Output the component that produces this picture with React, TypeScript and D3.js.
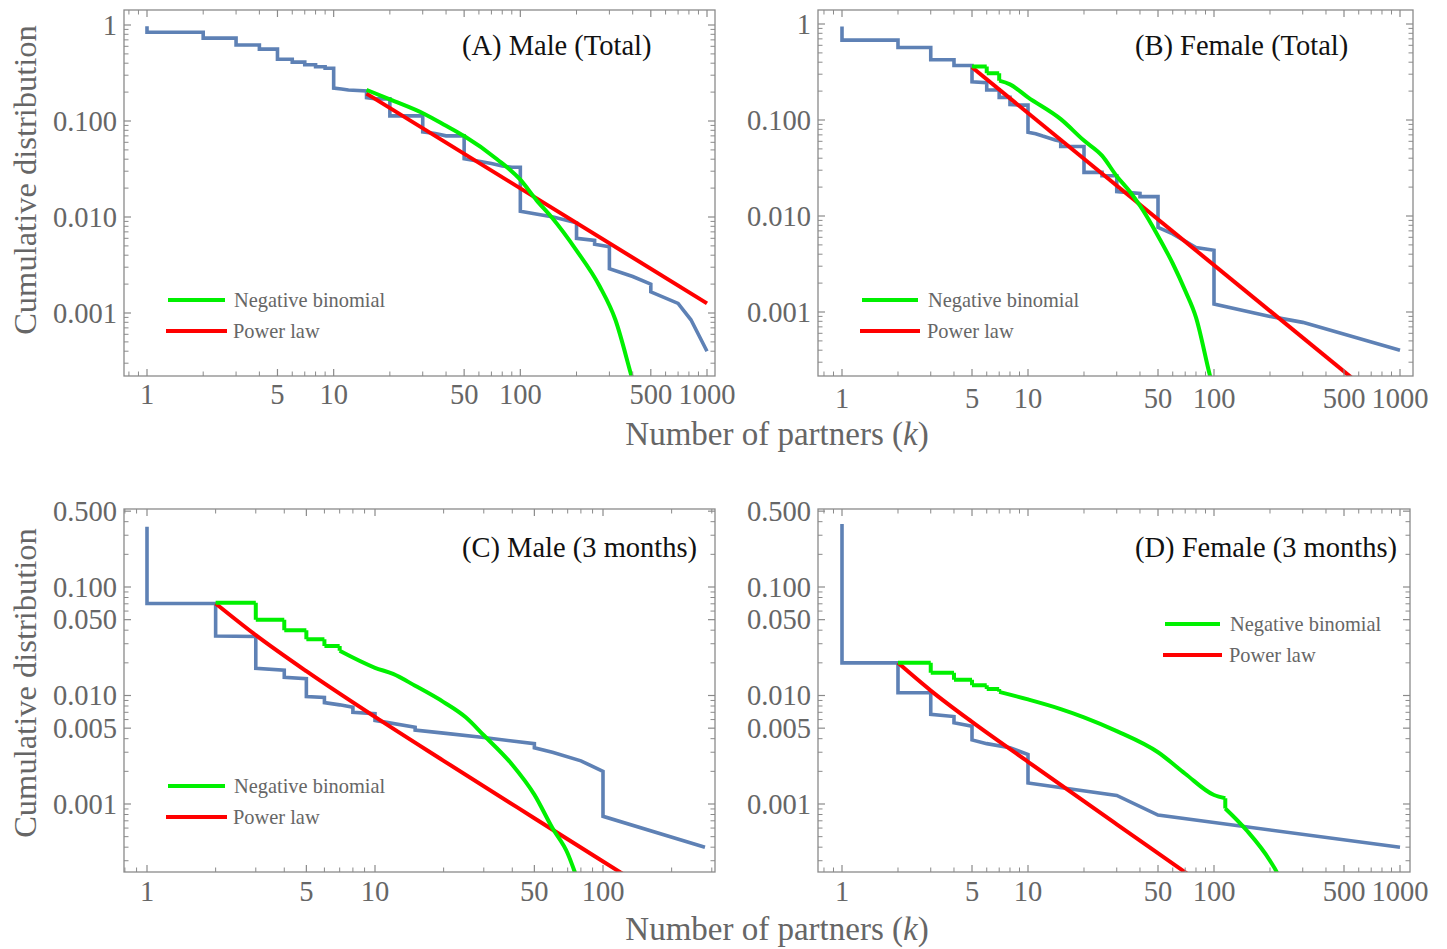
import React from 'react';
import * as d3 from 'd3';

// ---------- DATA ----------
// (A) Male (Total)
const maleTotalK = [1, 1, 2, 2, 3, 3, 4, 4, 5, 5, 6, 6, 7, 7, 8, 8, 9, 9, 10, 10, 11, 12, 15, 15, 17, 20, 20, 30, 30, 35, 40, 50, 50, 60, 70, 80, 90, 100, 100, 150, 200, 200, 250, 250, 300, 300, 400, 500, 500, 700, 820, 1000];
const maleTotalP = [0.97, 0.84, 0.84, 0.73, 0.73, 0.62, 0.62, 0.56, 0.56, 0.44, 0.44, 0.41, 0.41, 0.385, 0.385, 0.367, 0.367, 0.355, 0.355, 0.22, 0.215, 0.21, 0.206, 0.175, 0.17, 0.17, 0.113, 0.113, 0.077, 0.074, 0.07, 0.07, 0.0404, 0.038, 0.036, 0.034, 0.033, 0.033, 0.0115, 0.01, 0.0087, 0.006, 0.0057, 0.0052, 0.0049, 0.0029, 0.0024, 0.002, 0.00166, 0.00126, 0.00085, 0.0004];
const maleTotalNbK = [15, 20, 31, 40, 50, 75, 100, 122, 148, 198, 266, 323, 393, 430];
const maleTotalNbP = [0.211, 0.168, 0.117, 0.089, 0.0697, 0.04, 0.0245, 0.015, 0.0098, 0.0046, 0.0019, 0.00085, 0.000224, 0.00012];
const maleTotalPlK = [15, 1000];
const maleTotalPlP = [0.193, 0.00126];

// (B) Female (Total)
const femaleTotalK = [1, 1, 2, 2, 3, 3, 4, 4, 5, 5, 6, 6, 7, 7, 8, 8, 9, 10, 10, 11, 12, 14, 15, 15, 20, 20, 25, 25, 30, 30, 35, 40, 40, 50, 50, 60, 80, 100, 100, 200, 300, 1000];
const femaleTotalP = [0.94, 0.68, 0.68, 0.57, 0.57, 0.425, 0.425, 0.37, 0.37, 0.25, 0.245, 0.205, 0.205, 0.172, 0.172, 0.145, 0.143, 0.143, 0.0745, 0.072, 0.068, 0.062, 0.06, 0.053, 0.053, 0.0285, 0.0285, 0.0263, 0.0263, 0.018, 0.0175, 0.0172, 0.0159, 0.0159, 0.0076, 0.0065, 0.0047, 0.0044, 0.00121, 0.0009, 0.00078, 0.0004];
const femaleTotalNbK = [5, 6, 6, 7, 7, 8, 10, 15, 20, 25, 30, 35, 40, 50, 60, 70, 80, 95, 100];
const femaleTotalNbP = [0.36, 0.36, 0.306, 0.306, 0.257, 0.235, 0.172, 0.102, 0.061, 0.0425, 0.026, 0.0183, 0.0128, 0.0062, 0.0032, 0.00167, 0.00088, 0.00022, 0.00015];
const femaleTotalPlK = [5, 600];
const femaleTotalPlP = [0.354, 0.00018];

// (C) Male (3 months)
const male3mK = [1, 1, 2, 2, 3, 3, 4, 4, 5, 5, 6, 6, 7, 8, 8, 10, 10, 15, 15, 20, 30, 50, 50, 60, 80, 100, 100, 280];
const male3mP = [0.36, 0.0705, 0.0705, 0.0354, 0.035, 0.0178, 0.0171, 0.0147, 0.0143, 0.0098, 0.0096, 0.0086, 0.0082, 0.0078, 0.007, 0.0068, 0.0059, 0.0051, 0.0048, 0.0045, 0.0041, 0.0036, 0.0033, 0.003, 0.0025, 0.002, 0.00077, 0.0004];
const male3mNbK = [2, 3, 3, 4, 4, 5, 5, 6, 6, 7, 7, 10, 12, 15, 20, 25, 30, 40, 50, 60, 70, 75, 80];
const male3mNbP = [0.0714, 0.0714, 0.05, 0.05, 0.04, 0.04, 0.033, 0.033, 0.0286, 0.0286, 0.0258, 0.018, 0.0158, 0.0123, 0.0087, 0.0063, 0.0043, 0.0023, 0.00122, 0.0006, 0.00035, 0.00024, 0.00016];
const male3mPlK = [2, 3, 5, 10, 20, 50, 116, 130];
const male3mPlP = [0.0705, 0.036, 0.01675, 0.00635, 0.0025, 0.00074, 0.000243, 0.000209];

// (D) Female (3 months)
const female3mK = [1, 1, 2, 2, 3, 3, 4, 4, 5, 5, 6, 8, 10, 10, 30, 50, 1000];
const female3mP = [0.38, 0.02, 0.02, 0.0106, 0.0106, 0.0067, 0.0064, 0.0056, 0.0052, 0.0039, 0.0036, 0.0033, 0.00286, 0.00156, 0.0012, 0.00079, 0.0004];
const female3mNbK = [2, 3, 3, 4, 4, 5, 5, 6, 6, 7, 7, 10, 15, 20, 30, 50, 70, 100, 115, 115, 150, 200, 220, 240];
const female3mNbP = [0.02, 0.02, 0.0162, 0.0162, 0.014, 0.014, 0.0124, 0.0124, 0.0115, 0.0115, 0.0108, 0.0092, 0.0075, 0.0063, 0.0047, 0.003, 0.0019, 0.00121, 0.00113, 0.00091, 0.00057, 0.0003, 0.000226, 0.00015];
const female3mPlK = [2, 3, 5, 10, 30, 71, 80];
const female3mPlP = [0.02, 0.0111, 0.00571, 0.00245, 0.00065, 0.000231, 0.0002];

// Tick labels
const xMajorTotal = [1, 5, 10, 50, 100, 500, 1000];
const xLabelsTotal = ['1', '5', '10', '50', '100', '500', '1000'];
const xMajorC = [1, 5, 10, 50, 100];
const xLabelsC = ['1', '5', '10', '50', '100'];
const yMajorTotal = [1, 0.1, 0.01, 0.001];
const yLabelsTotal = ['1', '0.100', '0.010', '0.001'];
const yMajor3m = [0.5, 0.1, 0.05, 0.01, 0.005, 0.001];
const yLabels3m = ['0.500', '0.100', '0.050', '0.010', '0.005', '0.001'];

const titles = ['(A) Male (Total)', '(B) Female (Total)', '(C) Male (3 months)', '(D) Female (3 months)'];
const legendLabels = ['Negative binomial', 'Power law'];
const xAxisTitle = 'Number of partners (';
const yAxisTitle = 'Cumulative distribution';

// ---------- STYLE ----------
const BLUE = '#5e81b5';
const GREEN = '#00f000';
const RED = '#ff0000';
const FRAME = '#8a8a8a';
const TEXT = '#666666';
const SERIF = '"Liberation Serif", "DejaVu Serif", serif';

type PanelCfg = {
  id: string;
  frame: { l: number; t: number; r: number; b: number };
  xd: [number, number]; xr: [number, number];
  yd: [number, number]; yr: [number, number];
  xMajor: number[]; xLabels: string[]; xLabOff: number;
  yMajor: number[]; yLabels: string[];
  blue: [number[], number[]]; nb: [number[], number[]]; pl: [number[], number[]];
  title: string; titleX: number; titleY: number;
  leg: { gx1: number; gx2: number; gy: number; rx1: number; rx2: number; ry: number; tx: number };
};

const panels: PanelCfg[] = [
  {
    id: 'A', frame: { l: 124, t: 10, r: 715, b: 376 },
    xd: [1, 1000], xr: [147, 707], yd: [1, 0.001], yr: [25, 313],
    xMajor: xMajorTotal, xLabels: xLabelsTotal, xLabOff: 28,
    yMajor: yMajorTotal, yLabels: yLabelsTotal,
    blue: [maleTotalK, maleTotalP], nb: [maleTotalNbK, maleTotalNbP], pl: [maleTotalPlK, maleTotalPlP],
    title: titles[0], titleX: 462, titleY: 55,
    leg: { gx1: 168, gx2: 225, gy: 300, rx1: 166, rx2: 227, ry: 331, tx: 234 },
  },
  {
    id: 'B', frame: { l: 818, t: 10, r: 1413, b: 376 },
    xd: [1, 1000], xr: [842, 1400], yd: [1, 0.001], yr: [24, 312],
    xMajor: xMajorTotal, xLabels: xLabelsTotal, xLabOff: 32,
    yMajor: yMajorTotal, yLabels: yLabelsTotal,
    blue: [femaleTotalK, femaleTotalP], nb: [femaleTotalNbK, femaleTotalNbP], pl: [femaleTotalPlK, femaleTotalPlP],
    title: titles[1], titleX: 1135, titleY: 55,
    leg: { gx1: 862, gx2: 918, gy: 300, rx1: 860, rx2: 920, ry: 331, tx: 928 },
  },
  {
    id: 'C', frame: { l: 124, t: 509, r: 715, b: 872 },
    xd: [1, 100], xr: [147, 603], yd: [0.1, 0.001], yr: [587, 804],
    xMajor: xMajorC, xLabels: xLabelsC, xLabOff: 29,
    yMajor: yMajor3m, yLabels: yLabels3m,
    blue: [male3mK, male3mP], nb: [male3mNbK, male3mNbP], pl: [male3mPlK, male3mPlP],
    title: titles[2], titleX: 462, titleY: 557,
    leg: { gx1: 168, gx2: 225, gy: 786, rx1: 166, rx2: 227, ry: 817, tx: 234 },
  },
  {
    id: 'D', frame: { l: 818, t: 509, r: 1410, b: 872 },
    xd: [1, 1000], xr: [842, 1400], yd: [0.1, 0.001], yr: [587, 804],
    xMajor: xMajorTotal, xLabels: xLabelsTotal, xLabOff: 29,
    yMajor: yMajor3m, yLabels: yLabels3m,
    blue: [female3mK, female3mP], nb: [female3mNbK, female3mNbP], pl: [female3mPlK, female3mPlP],
    title: titles[3], titleX: 1135, titleY: 557,
    leg: { gx1: 1165, gx2: 1220, gy: 624, rx1: 1163, rx2: 1222, ry: 655, tx: 1230 },
  },
];

function minorTicks(scale: d3.ScaleLogarithmic<number, number>, lo: number, hi: number, major: number[]) {
  const a = Math.min(scale.invert(lo), scale.invert(hi));
  const b = Math.max(scale.invert(lo), scale.invert(hi));
  const out: number[] = [];
  for (let e = Math.floor(Math.log10(a)) - 1; e <= Math.ceil(Math.log10(b)); e++) {
    for (let m = 1; m <= 9; m++) {
      const v = m * Math.pow(10, e);
      if (v < a || v > b) continue;
      if (major.some((mj) => Math.abs(mj - v) / v < 1e-6)) continue;
      out.push(v);
    }
  }
  return out;
}

// Split a series into runs of strictly increasing k; vertical drops (equal k) join runs.
function smoothPath(
  s: [number[], number[]],
  x: d3.ScaleLogarithmic<number, number>,
  y: d3.ScaleLogarithmic<number, number>
) {
  const pts = s[0].map((k, i) => [x(k), y(s[1][i])] as [number, number]);
  const runs: [number, number][][] = [];
  let cur: [number, number][] = [pts[0]];
  for (let i = 1; i < pts.length; i++) {
    if (Math.abs(pts[i][0] - pts[i - 1][0]) < 1e-9) {
      runs.push(cur);
      cur = [pts[i - 1], pts[i]];
      runs.push(cur);
      cur = [pts[i]];
    } else {
      cur.push(pts[i]);
    }
  }
  runs.push(cur);
  const straight = d3.line<[number, number]>();
  const curve = d3.line<[number, number]>().curve(d3.curveMonotoneX);
  return runs
    .filter((r) => r.length >= 2)
    .map((r) => (Math.abs(r[0][0] - r[r.length - 1][0]) < 1e-9 ? straight(r) : curve(r)) || '')
    .join('');
}

const Panel: React.FC<{ p: PanelCfg }> = ({ p }) => {
  const { l, t, r, b } = p.frame;
  const x = d3.scaleLog().domain(p.xd).range(p.xr);
  const y = d3.scaleLog().domain(p.yd).range(p.yr);
  const line = d3.line<[number, number]>().x((d) => x(d[0])).y((d) => y(d[1]));
  const pts = (s: [number[], number[]]) => s[0].map((k, i) => [k, s[1][i]] as [number, number]);
  const xMin = minorTicks(x, l, r, p.xMajor);
  const yMin = minorTicks(y, b, t, p.yMajor);
  const MJ = 7, MN = 4.5;
  const clip = `clip-${p.id}`;
  const TICK = 28.5;
  return (
    <g>
      <defs>
        <clipPath id={clip}>
          <rect x={l} y={t} width={r - l} height={b - t} />
        </clipPath>
      </defs>
      <g clipPath={`url(#${clip})`}>
        <path d={line(pts(p.blue)) || ''} fill="none" stroke={BLUE} strokeWidth={3.6} strokeLinejoin="miter" />
        <path d={smoothPath(p.pl, x, y)} fill="none" stroke={RED} strokeWidth={4} />
        <path d={smoothPath(p.nb, x, y)} fill="none" stroke={GREEN} strokeWidth={4} strokeLinejoin="round" />
      </g>
      <rect x={l} y={t} width={r - l} height={b - t} fill="none" stroke={FRAME} strokeWidth={1.3} />
      {p.xMajor.map((v) => (
        <g key={'xM' + v}>
          <line x1={x(v)} x2={x(v)} y1={b} y2={b - MJ} stroke={FRAME} strokeWidth={1.2} />
          <line x1={x(v)} x2={x(v)} y1={t} y2={t + MJ} stroke={FRAME} strokeWidth={1.2} />
        </g>
      ))}
      {xMin.map((v) => (
        <g key={'xm' + v}>
          <line x1={x(v)} x2={x(v)} y1={b} y2={b - MN} stroke={FRAME} strokeWidth={1} />
          <line x1={x(v)} x2={x(v)} y1={t} y2={t + MN} stroke={FRAME} strokeWidth={1} />
        </g>
      ))}
      {p.yMajor.map((v) => (
        <g key={'yM' + v}>
          <line x1={l} x2={l + MJ} y1={y(v)} y2={y(v)} stroke={FRAME} strokeWidth={1.2} />
          <line x1={r} x2={r - MJ} y1={y(v)} y2={y(v)} stroke={FRAME} strokeWidth={1.2} />
        </g>
      ))}
      {yMin.map((v) => (
        <g key={'ym' + v}>
          <line x1={l} x2={l + MN} y1={y(v)} y2={y(v)} stroke={FRAME} strokeWidth={1} />
          <line x1={r} x2={r - MN} y1={y(v)} y2={y(v)} stroke={FRAME} strokeWidth={1} />
        </g>
      ))}
      {p.xMajor.map((v, i) => (
        <text key={'xl' + v} x={x(v)} y={b + p.xLabOff} textAnchor="middle" fontFamily={SERIF} fontSize={TICK} fill={TEXT}>
          {p.xLabels[i]}
        </text>
      ))}
      {p.yMajor.map((v, i) => (
        <text key={'yl' + v} x={l - 7} y={y(v) + 9.5} textAnchor="end" fontFamily={SERIF} fontSize={TICK} fill={TEXT}>
          {p.yLabels[i]}
        </text>
      ))}
      <text x={p.titleX} y={p.titleY} fontFamily={SERIF} fontSize={28.5} fill="#111">
        {p.title}
      </text>
      <line x1={p.leg.gx1} x2={p.leg.gx2} y1={p.leg.gy} y2={p.leg.gy} stroke={GREEN} strokeWidth={4} />
      <text x={p.leg.tx} y={p.leg.gy + 7} fontFamily={SERIF} fontSize={20.4} fill={TEXT}>
        {legendLabels[0]}
      </text>
      <line x1={p.leg.rx1} x2={p.leg.rx2} y1={p.leg.ry} y2={p.leg.ry} stroke={RED} strokeWidth={4} />
      <text x={p.leg.tx - 1} y={p.leg.ry + 7} fontFamily={SERIF} fontSize={20.4} fill={TEXT}>
        {legendLabels[1]}
      </text>
    </g>
  );
};

export default function App() {
  return (
    <svg
      width={1447}
      height={949}
      viewBox="0 0 1447 949"
      style={{ position: 'absolute', left: 0, top: 0, background: '#fff' }}
    >
      <rect width={1447} height={949} fill="#fff" />
      {panels.map((p) => (
        <Panel key={p.id} p={p} />
      ))}
      {[445, 940].map((yy) => (
        <text key={'xt' + yy} x={777} y={yy} textAnchor="middle" fontFamily={SERIF} fontSize={33} fill={TEXT}>
          {xAxisTitle}
          <tspan fontStyle="italic">k</tspan>)
        </text>
      ))}
      {[180, 683].map((cy) => (
        <text
          key={'yt' + cy}
          transform={`translate(36,${cy}) rotate(-90)`}
          textAnchor="middle"
          fontFamily={SERIF}
          fontSize={32.5}
          fill={TEXT}
        >
          {yAxisTitle}
        </text>
      ))}
    </svg>
  );
}
